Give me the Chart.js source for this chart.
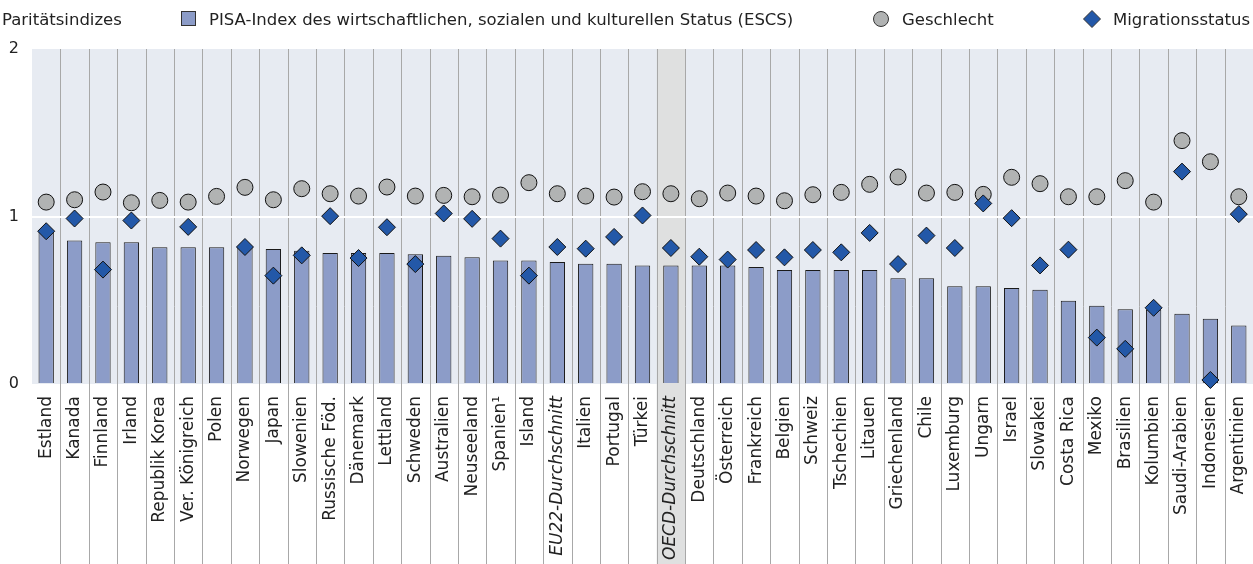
<!DOCTYPE html>
<html>
<head>
<meta charset="utf-8">
<script src="https://cdn.jsdelivr.net/npm/chart.js@4.4.0/dist/chart.umd.min.js"></script>
<style>
  body { margin: 0; background: #fff; }
  #wrap { position: relative; width: 1253px; height: 564px; }
</style>
</head>
<body>
<div id="wrap"><canvas id="chart"></canvas></div>
<script>
// Länder (Reihenfolge wie im Original)
const countries = ["Estland", "Kanada", "Finnland", "Irland", "Republik Korea", "Ver. Königreich", "Polen", "Norwegen", "Japan", "Slowenien",
  "Russische Föd.", "Dänemark", "Lettland", "Schweden", "Australien", "Neuseeland", "Spanien¹", "Island", "EU22-Durchschnitt", "Italien", "Portugal",
  "Türkei", "OECD-Durchschnitt", "Deutschland", "Österreich", "Frankreich", "Belgien", "Schweiz", "Tschechien", "Litauen", "Griechenland", "Chile",
  "Luxemburg", "Ungarn", "Israel", "Slowakei", "Costa Rica", "Mexiko", "Brasilien", "Kolumbien", "Saudi-Arabien", "Indonesien", "Argentinien"];

// Paritätsindex ESCS (Balken)
const escsValues = [0.91, 0.856, 0.846, 0.846, 0.816, 0.816, 0.816, 0.82, 0.806, 0.796,
  0.782, 0.782, 0.782, 0.774, 0.766, 0.756, 0.738, 0.738, 0.728, 0.718, 0.718,
  0.708, 0.708, 0.708, 0.708, 0.699, 0.68, 0.68, 0.68, 0.68, 0.632, 0.632,
  0.583, 0.583, 0.573, 0.563, 0.497, 0.467, 0.447, 0.445, 0.419, 0.389, 0.349];

// Geschlecht (Kreise)
const genderValues = [1.086, 1.10, 1.146, 1.082, 1.096, 1.086, 1.12, 1.174, 1.10, 1.166,
  1.136, 1.122, 1.176, 1.122, 1.126, 1.118, 1.128, 1.202, 1.136, 1.122, 1.116,
  1.148, 1.136, 1.106, 1.14, 1.122, 1.094, 1.13, 1.144, 1.192, 1.236, 1.14,
  1.144, 1.132, 1.234, 1.196, 1.118, 1.118, 1.214, 1.086, 1.453, 1.327, 1.118];

// Migrationsstatus (Rauten), null = keine Angabe
const migrationValues = [0.912, 0.988, 0.683, 0.976, null, 0.938, null, 0.818, 0.647, 0.768,
  1.002, 0.752, 0.936, 0.716, 1.018, 0.986, 0.868, 0.647, 0.818, 0.808, 0.878,
  1.006, 0.812, 0.76, 0.743, 0.80, 0.756, 0.80, 0.786, 0.902, 0.716, 0.886,
  0.812, 1.078, 0.99, 0.708, 0.802, 0.277, 0.21, 0.455, 1.268, 0.024, 1.014];

const yTicks = [0, 1, 2];
const italicLabels = ["EU22-Durchschnitt", "OECD-Durchschnitt"];
const highlightLabel = "OECD-Durchschnitt";

const FONT = "'DejaVu Sans', sans-serif";
const barColor = '#8c9cc8';
const circleColor = '#b1b3b3';
const diamondColor = '#2358a8';

// Hintergrund, Hervorhebung OECD und Trennlinien
const backdrop = {
  id: 'backdrop',
  beforeDraw(chart) {
    const { ctx, chartArea: a } = chart;
    const x = chart.scales.x;
    const step = x.getPixelForValue(1) - x.getPixelForValue(0);
    ctx.save();
    ctx.fillStyle = '#e7ebf2';
    ctx.fillRect(a.left, a.top, a.right - a.left, a.bottom - a.top);
    const hi = countries.indexOf(highlightLabel);
    const hx = x.getPixelForValue(hi);
    ctx.fillStyle = '#dfe0e0';
    ctx.fillRect(hx - step / 2, a.top, step, chart.height - a.top);
    ctx.strokeStyle = '#a8a8a8';
    ctx.lineWidth = 1;
    for (let i = 0; i < countries.length - 1; i++) {
      const px = Math.round(x.getPixelForValue(i) + step / 2) + 0.5;
      ctx.beginPath();
      ctx.moveTo(px, a.top);
      ctx.lineTo(px, chart.height);
      ctx.stroke();
    }
    ctx.restore();
  },
  afterDraw(chart) {
    // Legende oben
    const ctx = chart.ctx;
    ctx.save();
    ctx.font = '16.5px ' + FONT;
    ctx.fillStyle = '#222';
    ctx.textBaseline = 'alphabetic';
    ctx.fillText('Paritätsindizes', 2, 25);
    ctx.fillStyle = barColor;
    ctx.strokeStyle = '#333';
    ctx.fillRect(181.5, 11.5, 14, 14);
    ctx.strokeRect(181.5, 11.5, 14, 14);
    ctx.fillStyle = '#222';
    ctx.fillText('PISA-Index des wirtschaftlichen, sozialen und kulturellen Status (ESCS)', 209, 25);
    ctx.beginPath();
    ctx.arc(881, 19, 7.5, 0, Math.PI * 2);
    ctx.fillStyle = circleColor;
    ctx.fill();
    ctx.stroke();
    ctx.fillStyle = '#222';
    ctx.fillText('Geschlecht', 902, 25);
    ctx.beginPath();
    ctx.moveTo(1092, 10.5);
    ctx.lineTo(1100.5, 19);
    ctx.lineTo(1092, 27.5);
    ctx.lineTo(1083.5, 19);
    ctx.closePath();
    ctx.fillStyle = diamondColor;
    ctx.fill();
    ctx.stroke();
    ctx.fillStyle = '#222';
    ctx.fillText('Migrationsstatus', 1113, 25);
    ctx.restore();
  }
};

new Chart(document.getElementById('chart'), {
  data: {
    labels: countries,
    datasets: [
      {
        type: 'line',
        label: 'Migrationsstatus',
        data: migrationValues,
        showLine: false,
        pointStyle: 'rectRot',
        pointRadius: 8.5,
        pointBackgroundColor: diamondColor,
        pointBorderColor: '#111',
        pointBorderWidth: 1,
        clip: false,
        order: 1
      },
      {
        type: 'line',
        label: 'Geschlecht',
        data: genderValues,
        showLine: false,
        pointStyle: 'circle',
        pointRadius: 8,
        pointBackgroundColor: circleColor,
        pointBorderColor: '#111',
        pointBorderWidth: 1,
        clip: false,
        order: 2
      },
      {
        type: 'bar',
        label: 'PISA-Index des wirtschaftlichen, sozialen und kulturellen Status (ESCS)',
        data: escsValues,
        backgroundColor: barColor,
        borderColor: '#1a1a1a',
        borderWidth: 1,
        barPercentage: 0.54,
        categoryPercentage: 1,
        order: 3
      }
    ]
  },
  options: {
    responsive: true,
    maintainAspectRatio: false,
    animation: false,
    layout: { autoPadding: false, padding: { top: 49, left: 0, right: 0, bottom: 0 } },
    plugins: {
      legend: { display: false },
      tooltip: { enabled: false }
    },
    scales: {
      x: {
        offset: true,
        grid: { display: false, drawTicks: false },
        border: { display: false },
        afterFit: function (scale) { scale.height = 180; scale.paddingRight = 0; scale.paddingLeft = 0; },
        ticks: {
          autoSkip: false,
          maxRotation: 90,
          minRotation: 90,
          padding: 12,
          color: '#222',
          font: function (c) {
            const lbl = countries[c.index];
            return { family: FONT, size: 17, style: italicLabels.includes(lbl) ? 'italic' : 'normal' };
          }
        }
      },
      y: {
        min: 0,
        max: 2,
        afterFit: function (scale) { scale.width = 32; },
        afterBuildTicks: function (scale) { scale.ticks = yTicks.map(v => ({ value: v })); },
        border: { display: false },
        grid: {
          drawTicks: false,
          lineWidth: 2,
          color: function (c) { return c.tick && c.tick.value === 1 ? '#ffffff' : 'rgba(0,0,0,0)'; }
        },
        ticks: {
          padding: 13,
          color: '#222',
          font: { family: FONT, size: 16 }
        }
      }
    }
  },
  plugins: [backdrop]
});
</script>
</body>
</html>
